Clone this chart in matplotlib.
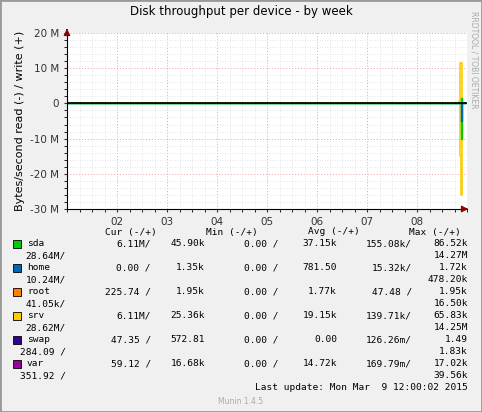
import matplotlib
matplotlib.use("Agg")
import matplotlib.pyplot as plt
from matplotlib.ticker import MultipleLocator, FuncFormatter

# time in days (x-axis, day-of-month), values in bytes/second
t = [1.0, 8.80, 8.84, 8.86, 8.88, 8.90, 8.92, 8.95]
sda_read = [0, 0, 0, 0, 10.0e6, 0, 0, 0]
sda_write = [0, 0, 0, 0.3e6, 1.5e6, 0, 0, 0]
home_read = [0, 0, 0, 0, 5.0e6, 0, 0, 0]
srv_read = [0, 0, 0, 15.0e6, 26.0e6, 0, 0, 0]
srv_write = [0, 0, 0.6e6, 11.5e6, 11.5e6, 0, 0, 0]
day_ticks = [2, 3, 4, 5, 6, 7, 8]
day_labels = ["02", "03", "04", "05", "06", "07", "08"]

names = ["sda", "home", "root", "srv", "swap", "var"]
colors = ["#00CC00", "#0066B3", "#FF8000", "#FFCC00", "#330099", "#990099"]
cur = ["6.11M/", "0.00 /", "225.74 /", "6.11M/", "47.35 /", "59.12 /"]
cur2 = ["45.90k", "1.35k", "1.95k", "25.36k", "572.81", "16.68k"]
mins = ["0.00 /", "0.00 /", "0.00 /", "0.00 /", "0.00 /", "0.00 /"]
avg = ["37.15k", "781.50", "1.77k", "19.15k", "0.00", "14.72k"]
avg2 = ["155.08k/", "15.32k/", "47.48 /", "139.71k/", "126.26m/", "169.79m/"]
mx = ["86.52k", "1.72k", "1.95k", "65.83k", "1.49", "17.02k"]
wrap1 = ["28.64M/", "10.24M/", "41.05k/", "28.62M/", "284.09 /", "351.92 /"]
wrap2 = ["14.27M", "478.20k", "16.50k", "14.25M", "1.83k", "39.56k"]

W, H = 482, 412
fig = plt.figure(figsize=(W / 100, H / 100), dpi=100, facecolor="#F0F0F0")
fig.patches.append(plt.Rectangle((0, 0), 1, 1, transform=fig.transFigure, fill=False,
                                 edgecolor="#999999", lw=2))
ax = fig.add_axes([67 / W, 1 - 209 / H, 400 / W, 176 / H])
ax.set_facecolor("white")

ax.step(t, [-v for v in srv_read], where="post", color=colors[3], lw=1.2)
ax.step(t, srv_write, where="post", color=colors[3], lw=1.2)
ax.step(t, [-v for v in sda_read], where="post", color=colors[0], lw=1)
ax.step(t, sda_write, where="post", color=colors[0], lw=1)
ax.step(t, [-v for v in home_read], where="post", color=colors[1], lw=1)
ax.axhline(0, color="black", lw=1.2)

ax.set_xlim(1.0, 9.0)
ax.set_ylim(-30e6, 20e6)
ax.set_xticks(day_ticks)
ax.set_xticklabels(day_labels)
ax.xaxis.set_minor_locator(MultipleLocator(0.25))
ax.yaxis.set_major_locator(MultipleLocator(10e6))
ax.yaxis.set_minor_locator(MultipleLocator(2e6))
ax.yaxis.set_major_formatter(FuncFormatter(lambda v, p: "0" if v == 0 else f"{v/1e6:.0f} M"))
ax.grid(which="minor", color="#DDDDDD", ls=(0, (1, 2)), lw=0.6)
ax.grid(which="major", color="#F0A0A0", ls=(0, (1, 2)), lw=0.7)
ax.set_axisbelow(True)
ax.tick_params(labelsize=7.5, length=2, colors="#333333")
for s in ["top", "right"]:
    ax.spines[s].set_visible(False)
ax.annotate("", xy=(1.01, 0), xytext=(0.99, 0), xycoords="axes fraction",
            arrowprops=dict(arrowstyle="-|>", color="#8B0000", lw=0.8))
ax.annotate("", xy=(0, 1.04), xytext=(0, 1.0), xycoords="axes fraction",
            arrowprops=dict(arrowstyle="-|>", color="#8B0000", lw=0.8))
ax.set_ylabel("Bytes/second read (-) / write (+)", fontsize=8)

fig.text(0.5, 1 - 12 / H, "Disk throughput per device - by week", ha="center", va="center", fontsize=8.5)
fig.text(474 / W, 1 - 60 / H, "RRDTOOL / TOBI OETIKER", rotation=270, ha="center", va="center",
         fontsize=5.5, color="#AAAAAA")

mono = "DejaVu Sans Mono"
fs = 6.8
def tx(x, y, s, ha="left", **kw):
    fig.text(x / W, 1 - y / H, s, ha=ha, va="center", family=mono, fontsize=fs, **kw)

tx(157, 232, "Cur (-/+)", ha="right")
tx(258, 232, "Min (-/+)", ha="right")
tx(360, 232, "Avg (-/+)", ha="right")
tx(461, 232, "Max (-/+)", ha="right")
for i, n in enumerate(names):
    y = 244 + i * 24
    fig.patches.append(plt.Rectangle((13 / W, 1 - (y + 4) / H), 8 / W, 8 / H, transform=fig.transFigure,
                                     facecolor=colors[i], edgecolor="black", lw=0.6))
    tx(27, y, n)
    tx(151, y, cur[i], ha="right")
    tx(205, y, cur2[i], ha="right")
    tx(278, y, mins[i], ha="right")
    tx(337, y, avg[i], ha="right")
    tx(412, y, avg2[i], ha="right")
    tx(468, y, mx[i], ha="right")
    tx(66, y + 12, wrap1[i], ha="right")
    tx(468, y + 12, wrap2[i], ha="right")
tx(468, 388, "Last update: Mon Mar  9 12:00:02 2015", ha="right")
fig.text(241 / W, 1 - 402 / H, "Munin 1.4.5", ha="center", va="center", fontsize=5.5, color="#AAAAAA")

fig.savefig("out.png", dpi=100, facecolor=fig.get_facecolor())
